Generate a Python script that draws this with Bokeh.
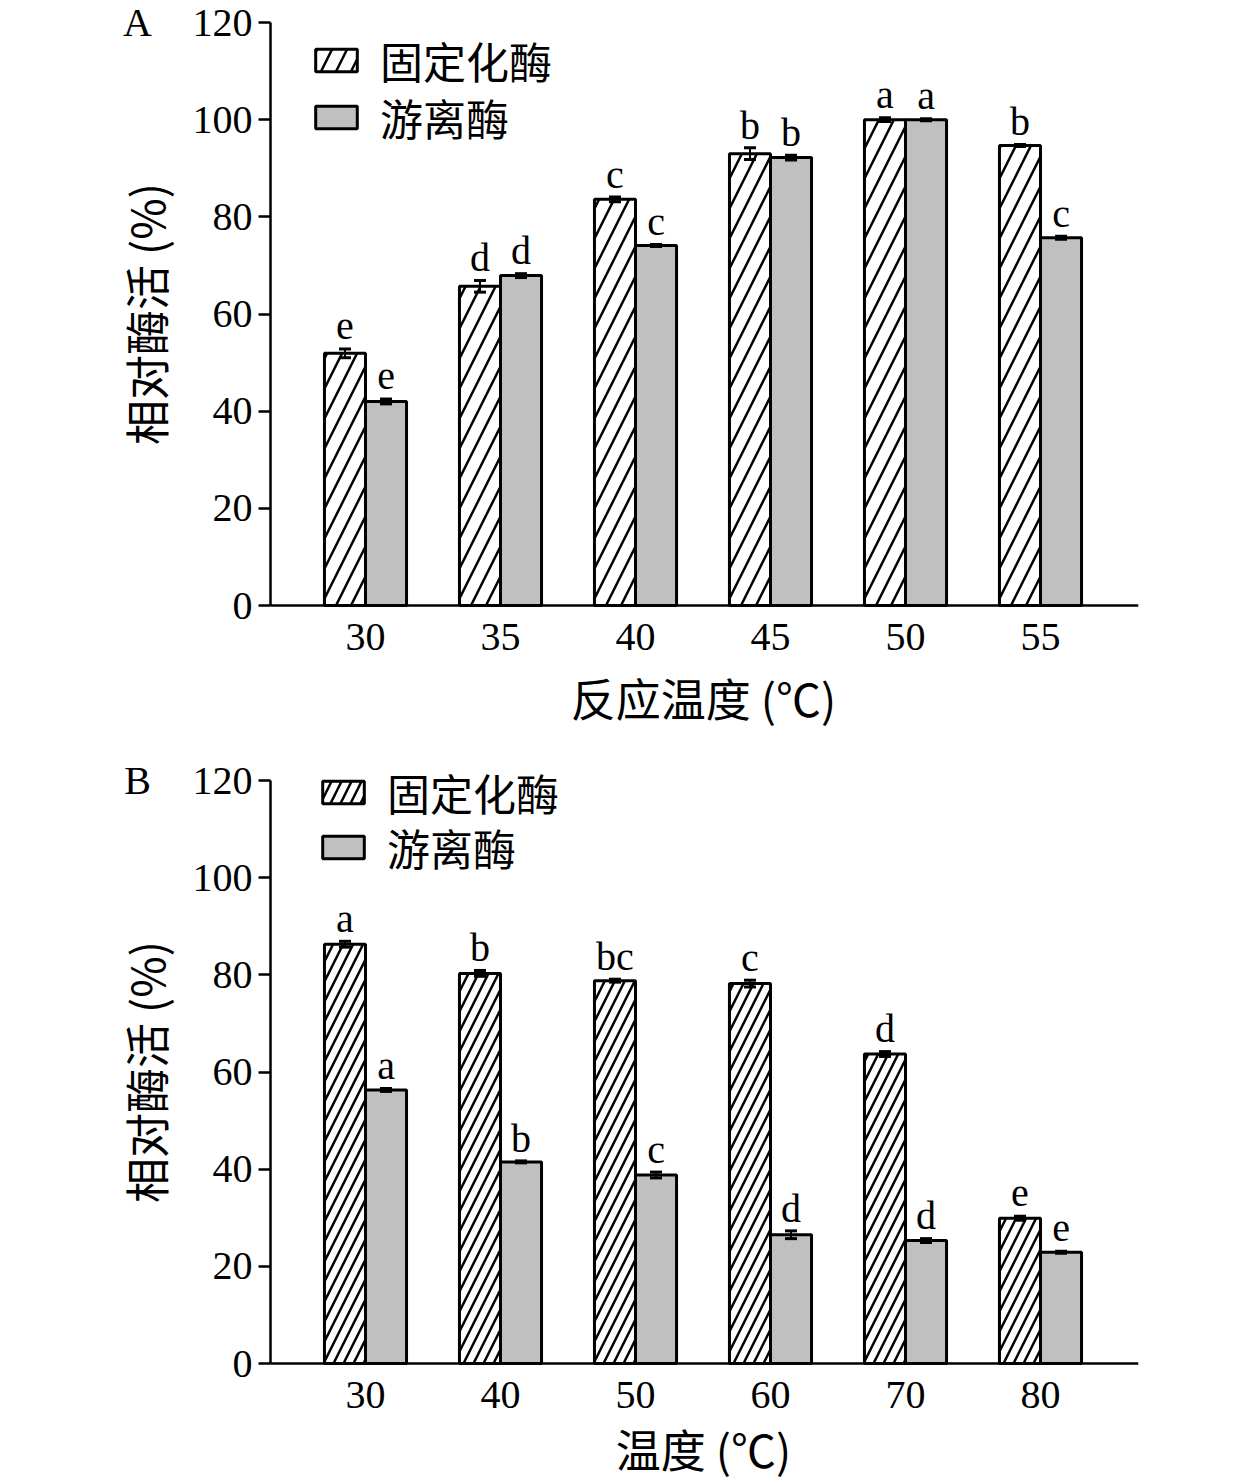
import math
from bokeh.plotting import figure
from bokeh.models import ColumnDataSource, Whisker, TeeHead, Legend, LegendItem, FixedTicker
from bokeh.layouts import column
from bokeh.embed import file_html
from bokeh.resources import INLINE
from bokeh.core.properties import value

# ---- data ----
temps_a = ["30", "35", "40", "45", "50", "55"]
imm_a = [51.9, 65.7, 83.6, 93.0, 100.0, 94.7]
imm_a_err = [0.9, 1.2, 0.5, 1.2, 0.4, 0.2]
free_a = [42.0, 67.9, 74.1, 92.2, 100.0, 75.7]
free_a_err = [0.5, 0.4, 0.2, 0.5, 0.2, 0.3]
imm_a_letters = ["e", "d", "c", "b", "a", "b"]
free_a_letters = ["e", "d", "c", "b", "a", "c"]

temps_b = ["30", "40", "50", "60", "70", "80"]
imm_b = [86.3, 80.3, 78.8, 78.2, 63.7, 29.9]
imm_b_err = [0.6, 0.6, 0.3, 0.7, 0.5, 0.4]
free_b = [56.3, 41.5, 38.8, 26.5, 25.3, 22.9]
free_b_err = [0.3, 0.2, 0.6, 0.8, 0.4, 0.2]
imm_b_letters = ["a", "b", "bc", "c", "d", "e"]
free_b_letters = ["a", "b", "c", "d", "d", "e"]

y_ticks = [0, 20, 40, 60, 80, 100, 120]
series_names = ["固定化酶", "游离酶"]
y_title = "相对酶活 (%)"

SERIF = "Liberation Serif"
CJK = "Noto Sans CJK SC"
BW = 0.304
LETTER_GAP = 4.7          # data units above the error bar
PXU = 135.0               # px per category unit
PXY = 583.0 / 120.0       # px per value unit
ZERO = 605                # px from figure top to value 0
FRAME_LEFT = 60
X0 = -(365 - 270) / PXU   # where the value axis sits
X_START = -(365 - FRAME_LEFT) / PXU
X_END = (1138 - 365) / PXU


def make_panel(cats, imm, imm_err, free, free_err, imm_l, free_l, xlabel, xlabel_y, panel,
               height, hatch_scale, leg1, leg2):
    n = len(cats)
    xs = list(range(n))
    p = figure(width=1250, height=height, x_range=(X_START, X_END),
               y_range=(-(height - ZERO) / PXY, ZERO / PXY),
               output_backend="svg", toolbar_location=None,
               min_border_left=FRAME_LEFT, min_border_right=1250 - 1138, min_border_top=0,
               min_border_bottom=0)
    p.grid.visible = False
    p.outline_line_color = None
    p.background_fill_color = "white"
    p.border_fill_color = "white"

    x_imm = [x - BW / 2 for x in xs]
    x_free = [x + BW / 2 for x in xs]

    def src_for(xv, vals, errs, labs):
        up = [v + e for v, e in zip(vals, errs)]
        return ColumnDataSource(dict(x=xv, top=vals, up=up,
                                     lo=[v - e for v, e in zip(vals, errs)],
                                     ly=[u + LETTER_GAP for u in up], lab=labs))

    src_i = src_for(x_imm, imm, imm_err, imm_l)
    src_f = src_for(x_free, free, free_err, free_l)

    r1 = p.vbar(x="x", top="top", bottom=0, width=BW, source=src_i, fill_color="white",
                line_color="black", line_width=3, hatch_pattern="/", hatch_color="black",
                hatch_weight=2.5, hatch_scale=hatch_scale)
    r2 = p.vbar(x="x", top="top", bottom=0, width=BW, source=src_f, fill_color="#c0c0c0",
                line_color="black", line_width=3)

    for src in (src_i, src_f):
        w = Whisker(base="x", upper="up", lower="lo", source=src, line_width=2, line_color="black",
                    level="overlay",
                    upper_head=TeeHead(size=12, line_width=3, line_color="black"),
                    lower_head=TeeHead(size=12, line_width=3, line_color="black"))
        p.add_layout(w)
        p.text(x="x", y="ly", text="lab", source=src, text_align="center",
               text_baseline="alphabetic", text_font=value(SERIF),
               text_font_size="40px", text_color="black")

    # panel letter
    p.text(x=[-(365 - 137) / PXU], y=[120], text=[panel], text_align="center",
           text_baseline="middle", text_font=value(SERIF), text_font_size="40px",
           text_color="black")
    # axis titles
    p.text(x=[-(365 - 145) / PXU], y=[60], text=[y_title], angle=math.pi / 2,
           text_align="center", text_baseline="middle", text_font=value(CJK),
           text_font_size="45px", text_color="black")
    p.text(x=[(703 - 365) / PXU], y=[xlabel_y], text=[xlabel], text_align="center",
           text_baseline="middle", text_font=value(CJK), text_font_size="45px",
           text_color="black")

    # axes
    p.yaxis.fixed_location = X0
    p.yaxis.ticker = FixedTicker(ticks=y_ticks)
    p.yaxis.bounds = (0, 120)
    p.yaxis.minor_tick_line_color = None
    p.yaxis.major_tick_out = 12
    p.yaxis.major_tick_in = 0
    p.yaxis.major_tick_line_width = 2.5
    p.yaxis.major_tick_line_color = "black"
    p.yaxis.axis_line_width = 2.5
    p.yaxis.axis_line_color = "black"
    p.yaxis.major_label_text_font = SERIF
    p.yaxis.major_label_text_font_size = "40px"
    p.yaxis.major_label_text_color = "black"
    p.yaxis.major_label_standoff = 6

    p.xaxis.fixed_location = 0
    p.xaxis.ticker = FixedTicker(ticks=xs)
    p.xaxis.bounds = (X0, X_END)
    p.xaxis.major_label_overrides = {i: c for i, c in enumerate(cats)}
    p.xaxis.minor_tick_line_color = None
    p.xaxis.major_tick_line_color = None
    p.xaxis.major_tick_out = 0
    p.xaxis.major_tick_in = 0
    p.xaxis.axis_line_width = 2.5
    p.xaxis.axis_line_color = "black"
    p.xaxis.major_label_text_font = SERIF
    p.xaxis.major_label_text_font_size = "40px"
    p.xaxis.major_label_text_color = "black"
    p.xaxis.major_label_standoff = 18

    for item_label, rend, loc in ((series_names[0], r1, leg1), (series_names[1], r2, leg2)):
        legend = Legend(items=[LegendItem(label=item_label, renderers=[rend])],
                        location=loc, orientation="vertical",
                        glyph_width=52, glyph_height=28, label_standoff=18, padding=0, margin=0,
                        border_line_color=None, background_fill_alpha=0,
                        label_text_font=CJK, label_text_font_size="43px",
                        label_text_color="black")
        p.add_layout(legend, "center")
    return p


pa = make_panel(temps_a, imm_a, imm_a_err, free_a, free_a_err, imm_a_letters, free_a_letters,
                "反应温度 (℃)", -18.9, "A", 758, 30,
                (310 - FRAME_LEFT, 667), (310 - FRAME_LEFT, 610))
pb = make_panel(temps_b, imm_b, imm_b_err, free_b, free_b_err, imm_b_letters, free_b_letters,
                "温度 (℃)", -17.4, "B", 722, 20,
                (317 - FRAME_LEFT, 657), (317 - FRAME_LEFT, 602))

layout = column(pa, pb, spacing=0)
open("out.html", "w").write(file_html(layout, INLINE))
